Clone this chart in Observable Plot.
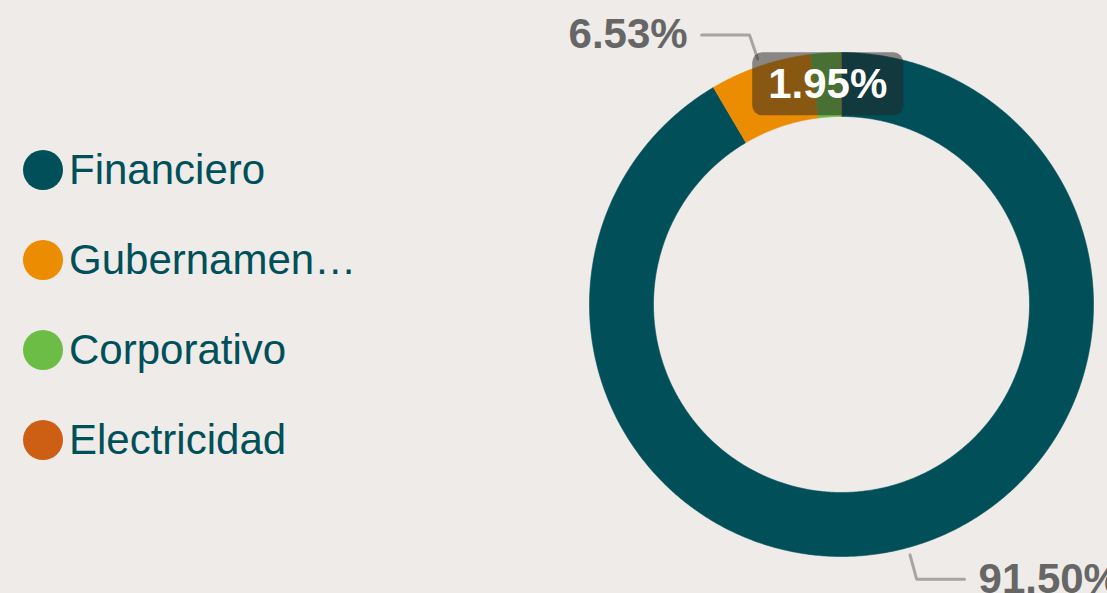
<!DOCTYPE html>
<html>
<head>
<meta charset="utf-8">
<script src="https://cdn.jsdelivr.net/npm/d3@7"></script>
<script src="https://cdn.jsdelivr.net/npm/@observablehq/plot@0.6"></script>
<style>
  html, body { margin: 0; padding: 0; background: #efebe8; }
  body { width: 1107px; height: 593px; overflow: hidden; position: relative; font-family: "Liberation Sans", Arial, sans-serif; }
  #chart { position: absolute; left: 0; top: 0; }
  #legend { position: absolute; left: 23px; top: 125px; }
  .row { height: 90px; display: flex; align-items: center; }
  .sw { width: 40px; height: 40px; border-radius: 50%; margin-right: 6px; flex: none; }
  .lab { font-size: 42px; color: #00505a; white-space: nowrap; }
</style>
</head>
<body>
<div id="chart"></div>
<div id="legend"></div>
<script>
// ---- data ----
const categories = ["Financiero", "Gubernamental", "Corporativo", "Electricidad"];
const values = [91.50, 6.53, 1.95, 0.02];
const colors = ["#004f59", "#ec8c00", "#6cbd45", "#cc5f14"];
const valueLabels = ["91.50%", "6.53%", "1.95%", ""];

// ---- layout config ----
const outsideLabels = new Set(["Financiero", "Gubernamental"]);
const insideLabels = new Set(["Corporativo"]);
const innerR = 188 / 252;

const pie = d3.pie().sort(null).value(d => d)(values);

// ring polygons
const ringPts = [];
pie.forEach((p, i) => {
  const cat = categories[i];
  const n = Math.max(2, Math.ceil((p.endAngle - p.startAngle) / (Math.PI / 360)));
  const outer = [], inner = [];
  for (let k = 0; k <= n; k++) {
    const a = p.startAngle + (p.endAngle - p.startAngle) * k / n;
    outer.push({cat, x: Math.sin(a), y: Math.cos(a)});
    inner.push({cat, x: innerR * Math.sin(a), y: innerR * Math.cos(a)});
  }
  ringPts.push(...outer, ...inner.reverse());
});

// leader lines and labels
const leaders = [], outTexts = [], inTexts = [];
pie.forEach((p, i) => {
  const cat = categories[i];
  const a = (p.startAngle + p.endAngle) / 2;
  const sx = Math.sin(a), sy = Math.cos(a);
  if (outsideLabels.has(cat)) {
    const side = sx >= 0 ? 1 : -1;
    const ex = 1.13 * sx, ey = 1.13 * sy;
    leaders.push({cat, x: 1.03 * sx, y: 1.03 * sy});
    leaders.push({cat, x: ex, y: ey});
    leaders.push({cat, x: ex + side * 0.19, y: ey});
    outTexts.push({cat, label: valueLabels[i], x: ex + side * 0.19, y: ey, side});
  } else if (insideLabels.has(cat)) {
    const r = (1 + innerR) / 2;
    inTexts.push({cat, label: valueLabels[i], x: r * sx, y: r * sy});
  }
});

const chart = Plot.plot({
  width: 1107,
  height: 593,
  margin: 0,
  style: {background: "transparent", fontFamily: "'Liberation Sans', Arial, sans-serif"},
  x: {domain: [-1, 1], range: [589, 1093], axis: null},
  y: {domain: [-1, 1], range: [556, 52], axis: null},
  color: {domain: categories, range: colors},
  marks: [
    Plot.line(ringPts, {x: "x", y: "y", z: "cat", fill: "cat", stroke: "cat", strokeWidth: 0.6, curve: "linear"}),
    Plot.line(leaders, {x: "x", y: "y", z: "cat", stroke: "#a5a5a5", strokeWidth: 3, curve: "linear"}),
    Plot.text(inTexts, {x: "x", y: "y", text: "label", fill: "white", fontSize: 42, fontWeight: "bold", className: "inside-label"}),
    Plot.text(outTexts.filter(d => d.side > 0), {x: "x", y: "y", text: "label", fill: "#666666", fontSize: 42, fontWeight: "bold", textAnchor: "start", dx: 14}),
    Plot.text(outTexts.filter(d => d.side < 0), {x: "x", y: "y", text: "label", fill: "#666666", fontSize: 42, fontWeight: "bold", textAnchor: "end", dx: -14})
  ]
});
document.getElementById("chart").append(chart);

// rounded dark box behind inside labels
d3.select(chart).selectAll("g.inside-label text").each(function () {
  const bb = this.getBBox();
  const padX = 16, padY = 8;
  d3.select(this.parentNode).insert("rect", "text")
    .attr("transform", this.getAttribute("transform"))
    .attr("x", bb.x - padX).attr("y", bb.y - padY)
    .attr("width", bb.width + 2 * padX).attr("height", bb.height + 2 * padY)
    .attr("rx", 10).attr("fill", "rgba(36,36,36,0.5)");
});

// legend
const trunc = s => s.length > 12 ? s.slice(0, 10) + "…" : s;
const legend = d3.select("#legend");
categories.forEach((c, i) => {
  const row = legend.append("div").attr("class", "row");
  row.append("div").attr("class", "sw").style("background", colors[i]);
  row.append("div").attr("class", "lab").text(trunc(c));
});
</script>
</body>
</html>
